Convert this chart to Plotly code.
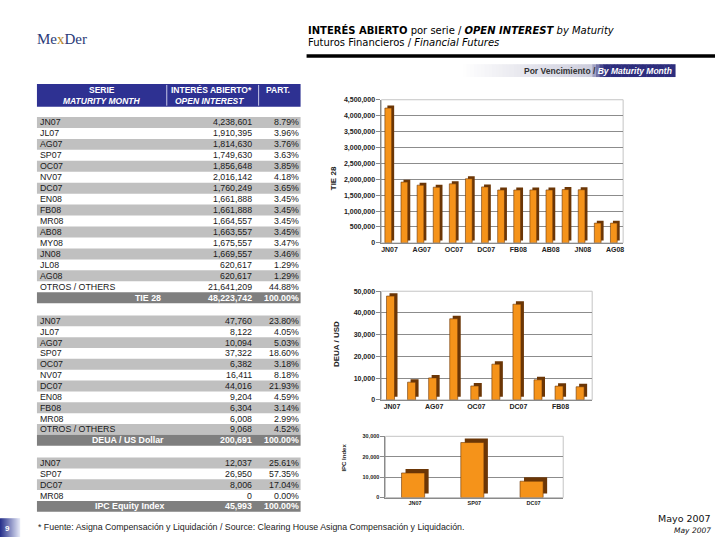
import plotly.graph_objects as go

W, H = 720, 540

# ---------------- data ----------------
tie_series = ["JN07", "JL07", "AG07", "SP07", "OC07", "NV07", "DC07", "EN08",
              "FB08", "MR08", "AB08", "MY08", "JN08", "JL08", "AG08"]
tie_oi = [4238601, 1910395, 1814630, 1749630, 1856648, 2016142, 1760249, 1661888,
          1661888, 1664557, 1663557, 1675557, 1669557, 620617, 620617]
tie_part = ["8.79%", "3.96%", "3.76%", "3.63%", "3.85%", "4.18%", "3.65%", "3.45%",
            "3.45%", "3.45%", "3.45%", "3.47%", "3.46%", "1.29%", "1.29%"]
tie_others = 21641209
tie_others_part = "44.88%"
tie_total = 48223742

deua_series = ["JN07", "JL07", "AG07", "SP07", "OC07", "NV07", "DC07", "EN08", "FB08", "MR08"]
deua_oi = [47760, 8122, 10094, 37322, 6382, 16411, 44016, 9204, 6304, 6008]
deua_part = ["23.80%", "4.05%", "5.03%", "18.60%", "3.18%", "8.18%", "21.93%", "4.59%",
             "3.14%", "2.99%"]
deua_others = 9068
deua_others_part = "4.52%"
deua_total = 200691

ipc_series = ["JN07", "SP07", "DC07", "MR08"]
ipc_oi = [12037, 26950, 8006, 0]
ipc_part = ["25.61%", "57.35%", "17.04%", "0.00%"]
ipc_total = 45993

tie_yticks = [0, 500000, 1000000, 1500000, 2000000, 2500000, 3000000, 3500000, 4000000, 4500000]
deua_yticks = [0, 10000, 20000, 30000, 40000, 50000]
ipc_yticks = [0, 10000, 20000, 30000]

# ---------------- helpers ----------------
def px(x):
    return x / W


def py(y):
    return 1 - y / H


annotations = []
shapes = []

FONT = "Liberation Sans, Arial, sans-serif"
VERD = "DejaVu Sans, Verdana, sans-serif"


def text(x, y, s, size=8.5, color="#1a1a1a", anchor="left", family=FONT, bold=False,
         italic=False, angle=0, vanchor="middle"):
    f = dict(family=family, size=size, color=color)
    if bold:
        f["weight"] = "bold"
    if italic:
        f["style"] = "italic"
    annotations.append(dict(x=px(x), y=py(y), xref="paper", yref="paper", text=s,
                            showarrow=False, xanchor=anchor, yanchor=vanchor, font=f,
                            textangle=angle, borderpad=0))


def rect(x0, y0, x1, y1, color, layer="below"):
    shapes.append(dict(type="rect", xref="paper", yref="paper", x0=px(x0), x1=px(x1),
                       y0=py(y1), y1=py(y0), fillcolor=color, line=dict(width=0),
                       layer=layer))


def lerp(c1, c2, t):
    return "rgb(%d,%d,%d)" % tuple(round(a + (b - a) * t) for a, b in zip(c1, c2))


# ---------------- header / logo ----------------
text(36, 35, "Me<span style='color:#b8862b'>x</span>Der", size=15,
     color="#2b3a78", family="Liberation Serif, serif")

text(307, 26, "<b>INTERÉS ABIERTO</b> por serie / <b><i>OPEN INTEREST</i></b> <i>by Maturity</i>",
     size=10, color="#000", family=VERD)
text(307, 39, "Futuros Financieros / <i>Financial Futures</i>", size=10, color="#000", family=VERD)
rect(307, 51, 716, 54.5, "#000", layer="above")

# banner with gradient
n = 60
bx0, bx1 = 460, 676
for i in range(n):
    t = i / n
    if t < 0.6:
        col = lerp((255, 255, 255), (205, 205, 220), t / 0.6)
    elif t < 0.66:
        col = lerp((205, 205, 220), (45, 45, 125), (t - 0.6) / 0.06)
    else:
        col = "rgb(45,45,125)"
    rect(bx0 + (bx1 - bx0) * i / n, 61, bx0 + (bx1 - bx0) * (i + 1) / n + 0.5, 74, col)
text(674, 67.5, "<b>Por Vencimiento / </b><span style='color:white'><b><i>By Maturity Month</i></b></span>",
     size=8.5, color="#333", anchor="right")

# ---------------- tables ----------------
TX0, TX1 = 37, 301
rect(TX0, 81, TX1, 104, "#2e3192")
shapes.append(dict(type="line", xref="paper", yref="paper", x0=px(167), x1=px(167),
                   y0=py(103), y1=py(82), line=dict(color="#c8c8e8", width=1)))
shapes.append(dict(type="line", xref="paper", yref="paper", x0=px(259), x1=px(259),
                   y0=py(103), y1=py(82), line=dict(color="#c8c8e8", width=1)))
text(102, 87, "SERIE", size=8.5, color="white", anchor="center", bold=True)
text(102, 98, "MATURITY MONTH", size=8.5, color="white", anchor="center", bold=True, italic=True)
text(212, 87, "INTERÉS ABIERTO*", size=8.5, color="white", anchor="center", bold=True)
text(210, 98, "OPEN INTEREST", size=8.5, color="white", anchor="center", bold=True, italic=True)
text(278, 87, "PART.", size=8.5, color="white", anchor="center", bold=True)


def draw_table(y_first, step, labels, vals, parts, others, others_part,
               total_label, total_x, total_val):
    rows = [(l, f"{v:,}", p) for l, v, p in zip(labels, vals, parts)]
    if others is not None:
        rows.append(("OTROS / OTHERS", f"{others:,}", others_part))
    for i, (lab, val, pt) in enumerate(rows):
        yc = y_first + step * i
        if i % 2 == 0:
            rect(TX0, yc - step / 2, TX1, yc + step / 2, "#c0c0c0")
        text(39, yc, lab, size=8.8)
        text(253, yc, val, anchor="right", size=8.8)
        text(300, yc, pt, anchor="right", size=8.8)
    yc = y_first + step * len(rows)
    rect(TX0, yc - step / 2, TX1, yc + step / 2, "#7f7f7f")
    text(total_x, yc, total_label, color="white", anchor="center", bold=True, size=8.8)
    text(253, yc, f"{total_val:,}", color="white", anchor="right", bold=True, size=8.8)
    text(300, yc, "100.00%", color="white", anchor="right", bold=True, size=8.8)


draw_table(120, 11.1, tie_series, tie_oi, tie_part, tie_others, tie_others_part,
           "TIE 28", 148, tie_total)
draw_table(321, 11.0, deua_series, deua_oi, deua_part, deua_others, deua_others_part,
           "DEUA / US Dollar", 128, deua_total)
draw_table(465, 11.0, ipc_series, ipc_oi, ipc_part, None, None,
           "IPC Equity Index", 130, ipc_total)

# ---------------- charts ----------------
fig = go.Figure()


def chart(k, cats, vals, xdom, ydom, yticks, xtickvals, bar_frac, depth_px, fsize, ticklab_fmt):
    sfx = "" if k == 1 else str(k)
    ncat = len(cats)
    wpx = xdom[1] - xdom[0]
    hpx = ydom[1] - ydom[0]
    ymax = yticks[-1]
    dx = depth_px / (wpx / ncat)
    dy = depth_px * ymax / hpx
    w = bar_frac
    # side/top face (depth)
    fig.add_trace(go.Bar(x=cats, y=vals, base=[dy] * ncat, width=w, offset=-w / 2 + dx / 2,
                         marker=dict(color="#6b3606", line=dict(width=0)),
                         xaxis="x" + sfx, yaxis="y" + sfx, hoverinfo="skip"))
    # front face
    fig.add_trace(go.Bar(x=cats, y=vals, width=w, offset=-w / 2 - dx / 2,
                         marker=dict(color="#f5931a", line=dict(color="#6b3606", width=0.6)),
                         xaxis="x" + sfx, yaxis="y" + sfx))
    tf = dict(family=FONT, size=fsize, color="#222", weight="bold")
    fig.layout["xaxis" + sfx] = dict(
        domain=[px(xdom[0]), px(xdom[1])], anchor="y" + sfx, type="category",
        range=[-0.5, ncat - 0.5], showline=True, linecolor="#8a8a8a", linewidth=1,
        showgrid=False, tickmode="array", tickvals=xtickvals, ticks="",
        tickfont=tf, fixedrange=True)
    fig.layout["yaxis" + sfx] = dict(
        domain=[py(ydom[1]), py(ydom[0])], anchor="x" + sfx, range=[0, ymax],
        tickmode="array", tickvals=yticks, ticktext=[ticklab_fmt(v) for v in yticks],
        showline=True, linecolor="#8a8a8a", linewidth=1, ticks="outside", ticklen=4,
        tickcolor="#8a8a8a", showgrid=True, gridcolor="#8c8c8c", gridwidth=1,
        zeroline=False, tickfont=tf, fixedrange=True)
    shapes.append(dict(type="rect", xref="x" + sfx + " domain", yref="y" + sfx + " domain",
                       x0=0, x1=1, y0=0, y1=1, line=dict(color="#c4c4c4", width=1),
                       layer="below"))


fmt = lambda v: f"{v:,}"

chart(1, tie_series, tie_oi, (382, 624), (97, 242), tie_yticks, tie_series[::2], 0.42, 2.5, 7, fmt)
chart(2, deua_series, deua_oi, (382, 593), (291, 401), deua_yticks, deua_series[::2], 0.38, 3, 7, fmt)
ipc_cats = [c for c, v in zip(ipc_series, ipc_oi) if v > 0]
ipc_vals = [v for v in ipc_oi if v > 0]
chart(3, ipc_cats, ipc_vals, (386, 564), (438, 500), ipc_yticks, ipc_cats, 0.39, 4, 5.5, fmt)

text(334, 177, "TIE 28", size=8, color="#222", anchor="center", bold=True, angle=-90)
text(337, 345, "DEUA / USD", size=8, color="#222", anchor="center", bold=True, angle=-90)
text(345, 460, "IPC Index", size=6, color="#222", anchor="center", bold=True, angle=-90)

# ---------------- footer ----------------
for i in range(20):
    rect(i, 521, i + 1.2, 540, lerp((40, 50, 140), (235, 238, 250), i / 20))
text(8, 531, "9", size=8, color="white", anchor="center", bold=True)
text(37, 530, "* Fuente: Asigna Compensación y Liquidación / Source: Clearing House Asigna Compensación y Liquidación.",
     size=8.8, color="#222")
text(713, 521, "Mayo 2007", size=9.5, color="#111", anchor="right", family=VERD)
text(713, 533, "May 2007", size=7.5, color="#111", anchor="right", family=VERD, italic=True)

fig.update_layout(
    width=W, height=H, margin=dict(l=0, r=0, t=0, b=0),
    paper_bgcolor="white", plot_bgcolor="white", showlegend=False,
    barmode="overlay", annotations=annotations, shapes=shapes,
)
fig.write_html("out.html", config={"displayModeBar": False},
               post_script="document.body.style.margin='0';")
